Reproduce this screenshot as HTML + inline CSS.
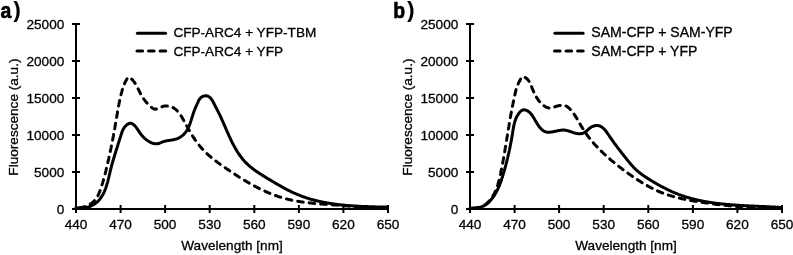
<!DOCTYPE html>
<html><head><meta charset="utf-8"><style>
html,body{margin:0;padding:0;background:#fff;width:793px;height:255px;overflow:hidden}
svg{display:block;will-change:transform}
text{font-family:"Liberation Sans",sans-serif;font-size:13.6px;fill:#000;stroke:#000;stroke-width:0.3px}
.lbl{font-weight:bold;font-size:22.8px;stroke:#000;stroke-width:0.7px}
.ax{stroke:#000;stroke-width:2;fill:none}
.sl{stroke:#000;stroke-width:3;fill:none;stroke-linecap:round;stroke-linejoin:round}
.dl{stroke:#000;stroke-width:3;fill:none;stroke-linecap:round;stroke-linejoin:round;stroke-dasharray:5.6 5.95}
</style></head><body>
<svg width="793" height="255" viewBox="0 0 793 255">
<path d="M76.0 24V213M76.0 209H388.0" class="ax"/>
<path d="M72.0 24.0H80.0" class="ax"/>
<path d="M72.0 61.0H80.0" class="ax"/>
<path d="M72.0 98.0H80.0" class="ax"/>
<path d="M72.0 135.0H80.0" class="ax"/>
<path d="M72.0 172.0H80.0" class="ax"/>
<path d="M72.0 209.0H80.0" class="ax"/>
<path d="M76.0 205V213" class="ax"/>
<path d="M120.6 205V213" class="ax"/>
<path d="M165.1 205V213" class="ax"/>
<path d="M209.7 205V213" class="ax"/>
<path d="M254.3 205V213" class="ax"/>
<path d="M298.9 205V213" class="ax"/>
<path d="M343.4 205V213" class="ax"/>
<path d="M388.0 205V213" class="ax"/>
<text x="64.3" y="28.6" text-anchor="end">25000</text>
<text x="64.3" y="65.6" text-anchor="end">20000</text>
<text x="64.3" y="102.6" text-anchor="end">15000</text>
<text x="64.3" y="139.6" text-anchor="end">10000</text>
<text x="64.3" y="176.6" text-anchor="end">5000</text>
<text x="64.3" y="213.6" text-anchor="end">0</text>
<text x="76.0" y="229.2" text-anchor="middle">440</text>
<text x="120.6" y="229.2" text-anchor="middle">470</text>
<text x="165.1" y="229.2" text-anchor="middle">500</text>
<text x="209.7" y="229.2" text-anchor="middle">530</text>
<text x="254.3" y="229.2" text-anchor="middle">560</text>
<text x="298.9" y="229.2" text-anchor="middle">590</text>
<text x="343.4" y="229.2" text-anchor="middle">620</text>
<text x="388.0" y="229.2" text-anchor="middle">650</text>
<text x="232.0" y="250.3" text-anchor="middle">Wavelength [nm]</text>
<text transform="translate(17.6 117.1) rotate(-90)" text-anchor="middle">Fluorescence (a.u.)</text>
<text transform="translate(0.6 17.8) scale(0.85 1)" class="lbl">a</text>
<text x="13.4" y="16.9" class="lbl" style="font-size:21.5px;stroke-width:0.2px">)</text>
<path d="M137.4 33.3H165.6" class="sl"/>
<path d="M137.0 51.1H165.9" class="dl"/>
<text x="173.4" y="37.3" style="font-size:13.6px">CFP-ARC4 + YFP-TBM</text>
<text x="173.4" y="55.5" style="font-size:13.6px">CFP-ARC4 + YFP</text>
<path d="M76.0 207.9L76.6 207.9L77.3 207.9L78.0 207.9L78.6 207.8L79.3 207.8L80.0 207.7L80.6 207.6L81.3 207.5L82.0 207.4L82.6 207.2L83.3 207.1L83.9 206.9L84.5 206.7L85.2 206.5L85.8 206.3L86.4 206.0L87.1 205.8L87.7 205.5L88.3 205.2L88.8 204.9L89.4 204.6L90.0 204.3L90.5 203.9L91.1 203.6L91.6 203.2L92.1 202.8L92.6 202.4L93.1 202.0L93.6 201.5L94.1 201.1L94.5 200.6L94.9 200.1L95.3 199.6L95.7 199.1L96.1 198.6L96.5 198.1L96.8 197.5L97.2 197.0L97.5 196.4L97.8 195.8L98.1 195.2L98.4 194.6L98.7 194.0L99.0 193.4L99.2 192.8L99.5 192.2L99.8 191.6L100.0 190.9L100.2 190.3L100.5 189.7L100.7 189.0L100.9 188.4L101.1 187.7L101.3 187.1L101.5 186.4L101.7 185.8L101.9 185.2L102.1 184.5L102.3 183.9L102.5 183.2L102.7 182.6L102.9 181.9L103.1 181.3L103.3 180.7L103.4 180.0L103.6 179.4L103.8 178.7L104.0 178.1L104.2 177.5L104.3 176.8L104.5 176.2L104.7 175.5L104.8 174.9L105.0 174.3L105.2 173.6L105.3 173.0L105.5 172.4L105.6 171.7L105.8 171.1L106.0 170.4L106.1 169.8L106.3 169.2L106.4 168.5L106.6 167.9L106.7 167.2L106.9 166.6L107.0 166.0L107.2 165.3L107.3 164.7L107.5 164.1L107.6 163.4L107.8 162.8L107.9 162.1L108.1 161.5L108.2 160.8L108.4 160.2L108.5 159.6L108.7 158.9L108.8 158.3L108.9 157.6L109.1 157.0L109.2 156.4L109.4 155.7L109.5 155.1L109.6 154.4L109.8 153.8L109.9 153.1L110.1 152.5L110.2 151.8L110.3 151.2L110.5 150.6L110.6 149.9L110.7 149.3L110.9 148.6L111.0 148.0L111.1 147.3L111.3 146.7L111.4 146.0L111.5 145.4L111.6 144.7L111.8 144.1L111.9 143.4L112.0 142.8L112.2 142.1L112.3 141.5L112.4 140.8L112.5 140.2L112.7 139.6L112.8 138.9L112.9 138.3L113.0 137.6L113.1 137.0L113.3 136.3L113.4 135.7L113.5 135.0L113.6 134.3L113.8 133.7L113.9 133.0L114.0 132.4L114.1 131.7L114.2 131.1L114.3 130.4L114.5 129.8L114.6 129.1L114.7 128.5L114.8 127.8L114.9 127.2L115.0 126.5L115.2 125.9L115.3 125.2L115.4 124.6L115.5 123.9L115.6 123.2L115.7 122.6L115.8 121.9L116.0 121.3L116.1 120.6L116.2 120.0L116.3 119.3L116.4 118.6L116.5 118.0L116.6 117.3L116.7 116.7L116.8 116.0L116.9 115.4L117.1 114.7L117.2 114.0L117.3 113.4L117.4 112.7L117.5 112.1L117.6 111.4L117.7 110.8L117.8 110.1L118.0 109.4L118.1 108.8L118.2 108.1L118.3 107.5L118.4 106.8L118.5 106.2L118.7 105.5L118.8 104.9L118.9 104.2L119.0 103.6L119.2 102.9L119.3 102.3L119.4 101.6L119.6 101.0L119.7 100.3L119.8 99.7L120.0 99.0L120.1 98.4L120.3 97.8L120.4 97.1L120.6 96.5L120.7 95.8L120.9 95.2L121.0 94.6L121.2 93.9L121.3 93.3L121.5 92.7L121.7 92.1L121.9 91.4L122.0 90.8L122.2 90.2L122.4 89.6L122.6 89.0L122.8 88.3L123.0 87.7L123.2 87.1L123.4 86.5L123.6 85.9L123.9 85.3L124.1 84.7L124.3 84.1L124.6 83.5L124.9 82.8L125.2 82.2L125.5 81.6L125.8 81.0L126.1 80.4L126.5 79.8L126.8 79.2L127.2 78.6L127.6 78.0L128.1 77.6L128.6 77.3L129.1 77.3L129.6 77.5L130.2 77.8L130.8 78.3L131.3 78.8L131.9 79.4L132.4 79.9L132.9 80.4L133.3 80.9L133.7 81.4L134.1 81.9L134.5 82.5L134.9 83.0L135.2 83.5L135.5 84.0L135.9 84.5L136.2 85.1L136.5 85.7L136.8 86.2L137.1 86.8L137.4 87.4L137.7 88.0L138.0 88.6L138.3 89.2L138.6 89.8L138.9 90.4L139.2 91.0L139.5 91.6L139.8 92.2L140.1 92.8L140.4 93.4L140.7 94.0L141.0 94.6L141.3 95.2L141.7 95.8L142.0 96.3L142.3 96.9L142.7 97.4L143.0 98.0L143.4 98.5L143.8 99.0L144.2 99.6L144.6 100.1L145.0 100.6L145.4 101.1L145.8 101.6L146.2 102.1L146.6 102.6L147.1 103.1L147.5 103.6L148.0 104.1L148.4 104.6L148.9 105.0L149.4 105.5L149.9 106.0L150.4 106.5L150.9 106.9L151.5 107.4L152.0 107.8L152.6 108.2L153.1 108.5L153.7 108.8L154.3 109.0L154.9 109.1L155.5 109.2L156.1 109.1L156.7 109.0L157.4 108.8L158.0 108.5L158.7 108.3L159.3 108.0L160.0 107.7L160.7 107.4L161.3 107.0L162.0 106.8L162.7 106.5L163.4 106.3L164.0 106.1L164.7 106.0L165.4 105.9L166.0 105.9L166.7 105.9L167.3 105.9L168.0 106.0L168.6 106.0L169.2 106.2L169.9 106.3L170.5 106.5L171.1 106.7L171.7 106.9L172.2 107.2L172.8 107.5L173.4 107.8L173.9 108.1L174.4 108.5L174.9 108.8L175.4 109.2L175.9 109.6L176.4 110.0L176.9 110.5L177.3 110.9L177.7 111.4L178.2 111.9L178.6 112.4L179.0 112.9L179.4 113.4L179.8 113.9L180.1 114.5L180.5 115.0L180.9 115.6L181.2 116.1L181.6 116.7L181.9 117.3L182.3 117.8L182.6 118.4L182.9 119.0L183.3 119.6L183.6 120.2L183.9 120.8L184.3 121.4L184.6 122.0L184.9 122.6L185.2 123.2L185.6 123.8L185.9 124.4L186.2 125.0L186.5 125.6L186.9 126.2L187.2 126.8L187.5 127.4L187.8 128.0L188.2 128.6L188.5 129.2L188.8 129.7L189.2 130.3L189.5 130.9L189.8 131.5L190.2 132.0L190.5 132.6L190.9 133.2L191.2 133.8L191.6 134.3L191.9 134.9L192.3 135.4L192.6 136.0L193.0 136.6L193.3 137.1L193.7 137.7L194.0 138.2L194.4 138.8L194.8 139.3L195.1 139.8L195.5 140.4L195.9 140.9L196.3 141.4L196.7 142.0L197.0 142.5L197.4 143.0L197.8 143.5L198.2 144.0L198.6 144.6L199.0 145.1L199.4 145.6L199.8 146.1L200.2 146.6L200.7 147.1L201.1 147.6L201.5 148.0L201.9 148.5L202.4 149.0L202.8 149.5L203.2 150.0L203.7 150.4L204.1 150.9L204.6 151.4L205.1 151.8L205.5 152.3L206.0 152.7L206.5 153.2L206.9 153.6L207.4 154.1L207.9 154.5L208.4 155.0L208.9 155.4L209.4 155.8L209.9 156.2L210.4 156.7L210.9 157.1L211.4 157.5L211.9 157.9L212.4 158.4L212.9 158.8L213.4 159.2L213.9 159.6L214.5 160.0L215.0 160.4L215.5 160.8L216.0 161.2L216.6 161.6L217.1 162.0L217.6 162.4L218.2 162.8L218.7 163.2L219.2 163.6L219.8 164.0L220.3 164.4L220.9 164.7L221.4 165.1L221.9 165.5L222.5 165.9L223.0 166.3L223.6 166.7L224.1 167.0L224.7 167.4L225.2 167.8L225.8 168.2L226.3 168.5L226.9 168.9L227.4 169.3L228.0 169.7L228.6 170.1L229.1 170.4L229.7 170.8L230.2 171.2L230.8 171.5L231.3 171.9L231.9 172.3L232.4 172.7L233.0 173.0L233.5 173.4L234.1 173.8L234.7 174.1L235.2 174.5L235.8 174.9L236.3 175.2L236.9 175.6L237.5 175.9L238.0 176.3L238.6 176.7L239.1 177.0L239.7 177.4L240.3 177.7L240.8 178.1L241.4 178.4L242.0 178.8L242.5 179.1L243.1 179.5L243.7 179.8L244.2 180.2L244.8 180.5L245.4 180.8L245.9 181.2L246.5 181.5L247.1 181.9L247.6 182.2L248.2 182.5L248.8 182.9L249.4 183.2L249.9 183.5L250.5 183.8L251.1 184.2L251.7 184.5L252.2 184.8L252.8 185.1L253.4 185.4L254.0 185.8L254.6 186.1L255.1 186.4L255.7 186.7L256.3 187.0L256.9 187.3L257.5 187.6L258.1 187.9L258.7 188.2L259.2 188.5L259.8 188.8L260.4 189.1L261.0 189.4L261.6 189.6L262.2 189.9L262.8 190.2L263.4 190.5L264.0 190.8L264.6 191.0L265.2 191.3L265.8 191.6L266.4 191.8L267.0 192.1L267.6 192.4L268.2 192.6L268.8 192.9L269.4 193.1L270.0 193.4L270.6 193.6L271.2 193.9L271.8 194.1L272.4 194.4L273.0 194.6L273.6 194.8L274.3 195.1L274.9 195.3L275.5 195.5L276.1 195.7L276.7 195.9L277.3 196.2L278.0 196.4L278.6 196.6L279.2 196.8L279.8 197.0L280.4 197.2L281.1 197.4L281.7 197.6L282.3 197.8L282.9 197.9L283.6 198.1L284.2 198.3L284.8 198.5L285.5 198.6L286.1 198.8L286.7 199.0L287.4 199.1L288.0 199.3L288.7 199.4L289.3 199.6L290.0 199.7L290.6 199.9L291.2 200.0L291.9 200.2L292.5 200.3L293.2 200.4L293.8 200.6L294.5 200.7L295.1 200.8L295.8 200.9L296.4 201.1L297.1 201.2L297.7 201.3L298.4 201.4L299.1 201.5L299.7 201.6L300.4 201.7L301.0 201.8L301.7 201.9L302.3 202.0L303.0 202.1L303.7 202.2L304.3 202.3L305.0 202.4L305.6 202.4L306.3 202.5L307.0 202.6L307.6 202.7L308.3 202.8L309.0 202.8L309.6 202.9L310.3 203.0L311.0 203.1L311.6 203.1L312.3 203.2L313.0 203.3L313.6 203.3L314.3 203.4L315.0 203.5L315.6 203.5L316.3 203.6L317.0 203.6L317.6 203.7L318.3 203.7L319.0 203.8L319.6 203.9L320.3 203.9L321.0 204.0L321.6 204.0L322.3 204.1L323.0 204.1L323.7 204.2L324.3 204.2L325.0 204.3L325.7 204.3L326.3 204.4L327.0 204.4L327.7 204.5L328.3 204.5L329.0 204.6L329.7 204.6L330.3 204.7L331.0 204.7L331.7 204.8L332.3 204.8L333.0 204.8L333.6 204.9L334.3 204.9L335.0 205.0L335.6 205.0L336.3 205.1L337.0 205.1L337.6 205.2L338.3 205.2L338.9 205.3L339.6 205.3L340.3 205.4L340.9 205.4L341.6 205.5L342.2 205.5L342.9 205.6L343.5 205.7L344.2 205.7L344.8 205.8L345.5 205.8L346.1 205.9L346.8 205.9L347.5 206.0L348.1 206.0L348.8 206.1L349.4 206.2L350.1 206.2L350.7 206.3L351.4 206.3L352.0 206.4L352.7 206.4L353.3 206.5L354.0 206.5L354.6 206.6L355.3 206.6L355.9 206.7L356.6 206.7L357.2 206.8L357.9 206.9L358.5 206.9L359.2 207.0L359.8 207.0L360.5 207.0L361.1 207.1L361.8 207.1L362.4 207.2L363.1 207.2L363.7 207.3L364.4 207.3L365.0 207.4L365.7 207.4L366.3 207.4L367.0 207.5L367.7 207.5L368.3 207.6L369.0 207.6L369.6 207.6L370.3 207.7L370.9 207.7L371.6 207.7L372.3 207.8L372.9 207.8L373.6 207.8L374.2 207.8L374.9 207.9L375.6 207.9L376.2 207.9L376.9 207.9L377.6 207.9L378.2 207.9L378.9 207.9L379.6 208.0L380.2 208.0L380.9 208.0L381.6 208.0L382.2 208.0L382.9 208.0L383.6 208.0L384.3 208.0L384.9 208.0L385.6 207.9L386.3 207.9L387.0 207.9L387.7 207.9" class="dl" style="stroke-dashoffset:8.12"/>
<path d="M76.0 207.7L76.6 207.8L77.3 207.9L77.9 208.0L78.6 208.1L79.2 208.1L79.9 208.2L80.5 208.2L81.2 208.2L81.8 208.2L82.5 208.1L83.1 208.1L83.8 208.0L84.5 207.9L85.1 207.8L85.8 207.6L86.4 207.5L87.0 207.3L87.7 207.2L88.3 207.0L88.9 206.8L89.5 206.5L90.2 206.3L90.8 206.0L91.4 205.8L91.9 205.5L92.5 205.2L93.1 204.9L93.6 204.6L94.2 204.2L94.7 203.9L95.2 203.5L95.7 203.1L96.2 202.8L96.7 202.4L97.2 201.9L97.7 201.5L98.1 201.1L98.5 200.7L98.9 200.2L99.4 199.7L99.8 199.3L100.1 198.8L100.5 198.3L100.9 197.8L101.2 197.3L101.6 196.8L101.9 196.2L102.2 195.7L102.5 195.2L102.9 194.6L103.2 194.1L103.4 193.5L103.7 192.9L104.0 192.4L104.3 191.8L104.5 191.2L104.8 190.6L105.0 190.0L105.2 189.4L105.5 188.8L105.7 188.2L105.9 187.5L106.1 186.9L106.3 186.3L106.5 185.7L106.7 185.0L106.9 184.4L107.1 183.8L107.3 183.1L107.5 182.5L107.7 181.8L107.8 181.2L108.0 180.5L108.2 179.9L108.3 179.2L108.5 178.6L108.7 177.9L108.8 177.3L109.0 176.6L109.1 175.9L109.3 175.3L109.4 174.6L109.6 174.0L109.7 173.3L109.9 172.7L110.1 172.0L110.2 171.4L110.4 170.7L110.5 170.1L110.7 169.5L110.8 168.8L111.0 168.2L111.2 167.5L111.3 166.9L111.5 166.3L111.6 165.7L111.8 165.0L112.0 164.4L112.2 163.8L112.3 163.2L112.5 162.6L112.7 162.0L112.8 161.3L113.0 160.7L113.2 160.1L113.4 159.5L113.6 158.9L113.7 158.3L113.9 157.7L114.1 157.1L114.3 156.5L114.5 155.9L114.6 155.3L114.8 154.7L115.0 154.1L115.2 153.5L115.4 152.9L115.6 152.3L115.8 151.7L115.9 151.1L116.1 150.5L116.3 149.9L116.5 149.3L116.7 148.7L116.9 148.1L117.1 147.5L117.3 146.9L117.5 146.3L117.7 145.6L117.9 145.0L118.1 144.4L118.2 143.8L118.4 143.2L118.6 142.6L118.8 142.0L119.0 141.3L119.2 140.7L119.4 140.1L119.6 139.5L119.8 138.8L120.0 138.2L120.2 137.6L120.4 137.0L120.6 136.3L120.8 135.7L121.0 135.0L121.2 134.4L121.4 133.8L121.6 133.1L121.8 132.5L122.1 131.9L122.3 131.3L122.6 130.7L122.8 130.1L123.1 129.5L123.4 128.9L123.8 128.3L124.1 127.8L124.5 127.2L124.9 126.7L125.3 126.2L125.8 125.8L126.2 125.3L126.7 124.9L127.3 124.4L127.8 124.1L128.4 123.8L129.0 123.5L129.6 123.3L130.2 123.2L130.7 123.2L131.3 123.3L131.9 123.5L132.5 123.8L133.0 124.2L133.5 124.6L134.0 125.0L134.5 125.5L135.0 125.9L135.4 126.4L135.8 127.0L136.3 127.5L136.7 128.1L137.0 128.6L137.4 129.2L137.8 129.8L138.2 130.3L138.5 130.9L138.9 131.4L139.3 132.0L139.7 132.5L140.1 133.0L140.4 133.6L140.8 134.1L141.2 134.6L141.6 135.1L142.0 135.6L142.4 136.0L142.9 136.5L143.3 137.0L143.7 137.4L144.2 137.9L144.6 138.3L145.1 138.7L145.6 139.1L146.0 139.5L146.5 139.9L147.1 140.3L147.6 140.7L148.1 141.0L148.7 141.4L149.2 141.7L149.8 142.0L150.4 142.3L151.0 142.6L151.6 142.9L152.2 143.1L152.9 143.3L153.5 143.5L154.1 143.6L154.7 143.7L155.4 143.8L156.0 143.8L156.6 143.8L157.3 143.8L157.9 143.7L158.5 143.5L159.1 143.4L159.7 143.1L160.3 142.9L160.9 142.7L161.5 142.4L162.1 142.1L162.7 141.9L163.3 141.7L164.0 141.4L164.6 141.3L165.2 141.1L165.9 140.9L166.5 140.8L167.1 140.7L167.8 140.6L168.4 140.5L169.1 140.4L169.8 140.3L170.4 140.2L171.1 140.1L171.7 140.0L172.4 139.9L173.0 139.8L173.6 139.7L174.3 139.5L174.9 139.4L175.5 139.2L176.1 139.0L176.7 138.8L177.3 138.6L177.9 138.3L178.5 138.1L179.1 137.8L179.6 137.5L180.2 137.2L180.7 136.8L181.2 136.5L181.7 136.1L182.2 135.7L182.7 135.3L183.2 134.9L183.7 134.5L184.1 134.0L184.5 133.6L184.9 133.1L185.3 132.6L185.7 132.1L186.1 131.6L186.5 131.1L186.8 130.5L187.1 130.0L187.4 129.4L187.7 128.9L188.0 128.3L188.3 127.7L188.6 127.1L188.9 126.5L189.1 125.9L189.4 125.3L189.6 124.7L189.8 124.1L190.1 123.5L190.3 122.9L190.5 122.2L190.7 121.6L190.9 121.0L191.1 120.3L191.3 119.7L191.5 119.1L191.7 118.4L191.9 117.8L192.1 117.1L192.3 116.5L192.5 115.9L192.7 115.2L192.9 114.6L193.1 114.0L193.3 113.4L193.5 112.8L193.7 112.2L193.9 111.5L194.1 111.0L194.3 110.4L194.6 109.8L194.8 109.2L195.1 108.6L195.3 108.1L195.6 107.5L195.8 106.9L196.1 106.3L196.3 105.8L196.6 105.2L196.9 104.6L197.1 104.0L197.4 103.4L197.7 102.8L197.9 102.2L198.2 101.6L198.5 100.9L198.8 100.3L199.1 99.8L199.5 99.2L199.8 98.7L200.3 98.2L200.7 97.7L201.2 97.3L201.8 96.9L202.4 96.6L203.0 96.3L203.6 96.1L204.2 96.0L204.9 95.9L205.5 95.8L206.2 95.8L206.8 95.9L207.4 96.0L208.0 96.2L208.5 96.5L209.0 96.8L209.5 97.2L210.0 97.6L210.5 98.0L210.9 98.5L211.3 99.0L211.7 99.6L212.1 100.1L212.4 100.7L212.8 101.3L213.1 101.9L213.4 102.6L213.8 103.2L214.1 103.8L214.4 104.4L214.7 105.0L215.0 105.6L215.3 106.2L215.6 106.8L215.9 107.3L216.2 107.9L216.5 108.5L216.8 109.1L217.1 109.6L217.4 110.2L217.7 110.7L217.9 111.3L218.2 111.8L218.5 112.4L218.8 113.0L219.1 113.5L219.3 114.1L219.6 114.6L219.9 115.2L220.1 115.7L220.4 116.3L220.7 116.9L220.9 117.4L221.2 118.0L221.4 118.6L221.7 119.1L222.0 119.7L222.2 120.3L222.5 120.9L222.7 121.5L223.0 122.0L223.3 122.6L223.5 123.2L223.8 123.8L224.0 124.4L224.3 125.0L224.6 125.6L224.8 126.2L225.1 126.8L225.3 127.4L225.6 128.0L225.8 128.6L226.1 129.2L226.4 129.8L226.6 130.4L226.9 131.0L227.2 131.6L227.4 132.2L227.7 132.8L228.0 133.4L228.2 134.0L228.5 134.6L228.8 135.2L229.0 135.8L229.3 136.4L229.6 137.0L229.9 137.6L230.1 138.2L230.4 138.8L230.7 139.4L231.0 140.0L231.3 140.6L231.6 141.2L231.9 141.8L232.1 142.4L232.4 143.0L232.7 143.5L233.0 144.1L233.3 144.7L233.7 145.3L234.0 145.9L234.3 146.4L234.6 147.0L234.9 147.6L235.2 148.2L235.6 148.7L235.9 149.3L236.2 149.8L236.5 150.4L236.9 151.0L237.2 151.5L237.6 152.1L237.9 152.6L238.3 153.1L238.6 153.7L239.0 154.2L239.4 154.7L239.7 155.3L240.1 155.8L240.5 156.3L240.9 156.8L241.2 157.3L241.6 157.8L242.0 158.3L242.4 158.8L242.8 159.3L243.2 159.8L243.7 160.3L244.1 160.8L244.5 161.2L244.9 161.7L245.4 162.2L245.8 162.6L246.3 163.1L246.7 163.5L247.2 163.9L247.6 164.4L248.1 164.8L248.6 165.2L249.0 165.6L249.5 166.1L250.0 166.5L250.5 166.9L251.0 167.3L251.5 167.7L252.0 168.1L252.5 168.5L253.0 168.9L253.5 169.2L254.0 169.6L254.5 170.0L255.0 170.4L255.5 170.8L256.1 171.1L256.6 171.5L257.1 171.9L257.7 172.2L258.2 172.6L258.7 172.9L259.3 173.3L259.8 173.6L260.4 174.0L260.9 174.3L261.4 174.7L262.0 175.0L262.5 175.4L263.1 175.7L263.6 176.1L264.2 176.4L264.8 176.7L265.3 177.1L265.9 177.4L266.4 177.8L267.0 178.1L267.5 178.4L268.1 178.8L268.7 179.1L269.2 179.4L269.8 179.8L270.4 180.1L270.9 180.4L271.5 180.8L272.0 181.1L272.6 181.4L273.2 181.8L273.7 182.1L274.3 182.4L274.8 182.8L275.4 183.1L276.0 183.4L276.5 183.8L277.1 184.1L277.7 184.4L278.2 184.7L278.8 185.1L279.4 185.4L279.9 185.7L280.5 186.0L281.1 186.4L281.6 186.7L282.2 187.0L282.8 187.3L283.3 187.6L283.9 187.9L284.5 188.3L285.1 188.6L285.6 188.9L286.2 189.2L286.8 189.5L287.3 189.8L287.9 190.1L288.5 190.4L289.1 190.7L289.7 191.0L290.2 191.2L290.8 191.5L291.4 191.8L292.0 192.1L292.6 192.4L293.2 192.6L293.7 192.9L294.3 193.2L294.9 193.4L295.5 193.7L296.1 193.9L296.7 194.2L297.3 194.5L297.9 194.7L298.5 194.9L299.1 195.2L299.7 195.4L300.3 195.6L300.9 195.9L301.5 196.1L302.1 196.3L302.7 196.5L303.3 196.8L303.9 197.0L304.5 197.2L305.1 197.4L305.7 197.6L306.3 197.8L306.9 198.0L307.5 198.2L308.1 198.4L308.8 198.6L309.4 198.8L310.0 198.9L310.6 199.1L311.2 199.3L311.8 199.5L312.5 199.6L313.1 199.8L313.7 200.0L314.3 200.1L314.9 200.3L315.6 200.5L316.2 200.6L316.8 200.8L317.4 200.9L318.1 201.1L318.7 201.2L319.3 201.4L320.0 201.5L320.6 201.6L321.2 201.8L321.8 201.9L322.5 202.0L323.1 202.2L323.7 202.3L324.4 202.4L325.0 202.5L325.6 202.6L326.3 202.8L326.9 202.9L327.6 203.0L328.2 203.1L328.8 203.2L329.5 203.3L330.1 203.4L330.7 203.5L331.4 203.6L332.0 203.7L332.7 203.8L333.3 203.9L333.9 204.0L334.6 204.1L335.2 204.2L335.9 204.3L336.5 204.3L337.2 204.4L337.8 204.5L338.4 204.6L339.1 204.7L339.7 204.7L340.4 204.8L341.0 204.9L341.7 204.9L342.3 205.0L343.0 205.1L343.6 205.1L344.3 205.2L344.9 205.3L345.6 205.3L346.2 205.4L346.9 205.4L347.5 205.5L348.1 205.5L348.8 205.6L349.4 205.7L350.1 205.7L350.7 205.7L351.4 205.8L352.0 205.8L352.7 205.9L353.3 205.9L354.0 206.0L354.6 206.0L355.3 206.1L355.9 206.1L356.6 206.1L357.2 206.2L357.9 206.2L358.5 206.2L359.2 206.3L359.8 206.3L360.5 206.3L361.1 206.4L361.8 206.4L362.4 206.4L363.1 206.5L363.7 206.5L364.4 206.5L365.0 206.5L365.7 206.6L366.3 206.6L367.0 206.6L367.6 206.6L368.3 206.7L368.9 206.7L369.6 206.7L370.2 206.7L370.9 206.7L371.5 206.8L372.2 206.8L372.8 206.8L373.4 206.8L374.1 206.8L374.7 206.8L375.4 206.9L376.0 206.9L376.7 206.9L377.3 206.9L378.0 206.9L378.6 206.9L379.2 206.9L379.9 207.0L380.5 207.0L381.2 207.0L381.8 207.0L382.5 207.0L383.1 207.0L383.7 207.0L384.4 207.1L385.0 207.1L385.6 207.1L386.3 207.1L386.9 207.1L387.6 207.1" class="sl"/>
<path d="M470.0 24V213M470.0 209H782.0" class="ax"/>
<path d="M466.0 24.0H474.0" class="ax"/>
<path d="M466.0 61.0H474.0" class="ax"/>
<path d="M466.0 98.0H474.0" class="ax"/>
<path d="M466.0 135.0H474.0" class="ax"/>
<path d="M466.0 172.0H474.0" class="ax"/>
<path d="M466.0 209.0H474.0" class="ax"/>
<path d="M470.0 205V213" class="ax"/>
<path d="M514.6 205V213" class="ax"/>
<path d="M559.1 205V213" class="ax"/>
<path d="M603.7 205V213" class="ax"/>
<path d="M648.3 205V213" class="ax"/>
<path d="M692.9 205V213" class="ax"/>
<path d="M737.4 205V213" class="ax"/>
<path d="M782.0 205V213" class="ax"/>
<text x="458.3" y="28.6" text-anchor="end">25000</text>
<text x="458.3" y="65.6" text-anchor="end">20000</text>
<text x="458.3" y="102.6" text-anchor="end">15000</text>
<text x="458.3" y="139.6" text-anchor="end">10000</text>
<text x="458.3" y="176.6" text-anchor="end">5000</text>
<text x="458.3" y="213.6" text-anchor="end">0</text>
<text x="470.0" y="229.2" text-anchor="middle">440</text>
<text x="514.6" y="229.2" text-anchor="middle">470</text>
<text x="559.1" y="229.2" text-anchor="middle">500</text>
<text x="603.7" y="229.2" text-anchor="middle">530</text>
<text x="648.3" y="229.2" text-anchor="middle">560</text>
<text x="692.9" y="229.2" text-anchor="middle">590</text>
<text x="737.4" y="229.2" text-anchor="middle">620</text>
<text x="782.0" y="229.2" text-anchor="middle">650</text>
<text x="626.0" y="250.3" text-anchor="middle">Wavelength [nm]</text>
<text transform="translate(411.6 117.1) rotate(-90)" text-anchor="middle">Fluorescence (a.u.)</text>
<text transform="translate(393.3 17.6) scale(0.85 1)" class="lbl">b</text>
<text x="407.3" y="16.9" class="lbl" style="font-size:21.5px;stroke-width:0.2px">)</text>
<path d="M554.9 33.3H583.1" class="sl"/>
<path d="M554.5 51.1H583.4" class="dl"/>
<text x="591.3" y="37.3" style="font-size:14.05px">SAM-CFP + SAM-YFP</text>
<text x="591.3" y="55.5" style="font-size:14.05px">SAM-CFP + YFP</text>
<path d="M469.9 208.1L470.6 208.3L471.4 208.4L472.1 208.5L472.8 208.6L473.5 208.6L474.2 208.6L474.9 208.6L475.6 208.5L476.2 208.5L476.9 208.4L477.5 208.2L478.2 208.1L478.8 207.9L479.5 207.7L480.1 207.5L480.7 207.2L481.3 207.0L481.9 206.7L482.5 206.4L483.0 206.1L483.6 205.7L484.2 205.4L484.7 205.0L485.2 204.6L485.8 204.2L486.3 203.8L486.8 203.4L487.3 202.9L487.8 202.5L488.2 202.0L488.7 201.5L489.1 201.1L489.6 200.6L490.0 200.1L490.4 199.6L490.8 199.1L491.2 198.5L491.6 198.0L492.0 197.5L492.3 196.9L492.7 196.4L493.0 195.8L493.3 195.3L493.6 194.7L494.0 194.2L494.3 193.6L494.6 193.0L494.8 192.4L495.1 191.8L495.4 191.2L495.7 190.6L495.9 190.0L496.2 189.4L496.4 188.8L496.6 188.2L496.9 187.6L497.1 187.0L497.3 186.3L497.5 185.7L497.7 185.1L497.9 184.4L498.1 183.8L498.3 183.1L498.5 182.5L498.6 181.9L498.8 181.2L499.0 180.6L499.1 179.9L499.3 179.3L499.5 178.6L499.6 177.9L499.8 177.3L499.9 176.6L500.1 176.0L500.2 175.3L500.4 174.6L500.5 174.0L500.6 173.3L500.8 172.7L500.9 172.0L501.0 171.3L501.2 170.7L501.3 170.0L501.4 169.4L501.6 168.7L501.7 168.0L501.8 167.4L502.0 166.7L502.1 166.1L502.2 165.4L502.3 164.7L502.5 164.1L502.6 163.4L502.7 162.8L502.8 162.1L502.9 161.5L503.1 160.8L503.2 160.1L503.3 159.5L503.4 158.8L503.5 158.2L503.7 157.5L503.8 156.9L503.9 156.2L504.0 155.5L504.1 154.9L504.2 154.2L504.3 153.6L504.5 152.9L504.6 152.3L504.7 151.6L504.8 151.0L504.9 150.3L505.0 149.6L505.1 149.0L505.2 148.3L505.3 147.7L505.4 147.0L505.6 146.4L505.7 145.7L505.8 145.1L505.9 144.4L506.0 143.8L506.1 143.1L506.2 142.5L506.3 141.8L506.4 141.2L506.5 140.5L506.6 139.8L506.7 139.2L506.8 138.5L506.9 137.9L507.0 137.2L507.2 136.6L507.3 135.9L507.4 135.3L507.5 134.6L507.6 134.0L507.7 133.3L507.8 132.7L507.9 132.0L508.0 131.4L508.1 130.7L508.2 130.1L508.3 129.4L508.4 128.8L508.5 128.1L508.6 127.5L508.8 126.8L508.9 126.2L509.0 125.5L509.1 124.9L509.2 124.2L509.3 123.6L509.4 122.9L509.5 122.2L509.6 121.6L509.7 120.9L509.9 120.3L510.0 119.6L510.1 119.0L510.2 118.3L510.3 117.7L510.4 117.0L510.5 116.4L510.7 115.7L510.8 115.1L510.9 114.4L511.0 113.8L511.1 113.1L511.3 112.5L511.4 111.8L511.5 111.2L511.6 110.5L511.7 109.9L511.9 109.2L512.0 108.6L512.1 107.9L512.2 107.3L512.4 106.6L512.5 105.9L512.6 105.3L512.8 104.6L512.9 104.0L513.0 103.3L513.2 102.7L513.3 102.0L513.4 101.4L513.6 100.7L513.7 100.1L513.8 99.4L514.0 98.8L514.1 98.1L514.3 97.5L514.4 96.8L514.6 96.1L514.7 95.5L514.9 94.8L515.0 94.2L515.2 93.5L515.3 92.9L515.5 92.2L515.6 91.6L515.8 90.9L515.9 90.3L516.1 89.6L516.3 89.0L516.5 88.3L516.7 87.7L516.9 87.1L517.1 86.4L517.3 85.8L517.5 85.2L517.8 84.6L518.1 84.1L518.3 83.5L518.6 82.9L518.9 82.3L519.2 81.7L519.6 81.1L519.9 80.5L520.2 79.9L520.5 79.2L520.9 78.5L521.2 77.9L521.6 77.3L522.0 76.9L522.5 76.6L523.0 76.5L523.6 76.7L524.2 76.9L524.8 77.3L525.4 77.6L525.9 78.0L526.5 78.5L527.0 78.9L527.5 79.4L528.0 79.9L528.4 80.4L528.8 81.0L529.2 81.5L529.5 82.1L529.8 82.7L530.1 83.3L530.4 83.9L530.7 84.5L530.9 85.1L531.2 85.7L531.4 86.3L531.7 86.9L531.9 87.5L532.1 88.2L532.4 88.8L532.6 89.4L532.9 90.0L533.2 90.6L533.4 91.2L533.7 91.8L534.0 92.4L534.2 93.0L534.5 93.6L534.8 94.2L535.1 94.8L535.4 95.4L535.7 96.0L536.1 96.6L536.4 97.1L536.7 97.7L537.1 98.3L537.5 98.8L537.8 99.4L538.2 99.9L538.6 100.5L539.0 101.0L539.4 101.5L539.9 102.0L540.3 102.5L540.8 103.0L541.3 103.5L541.8 104.0L542.3 104.4L542.8 104.9L543.3 105.3L543.9 105.7L544.4 106.1L545.0 106.5L545.6 106.8L546.2 107.1L546.8 107.4L547.4 107.6L548.0 107.7L548.6 107.9L549.2 107.9L549.9 108.0L550.5 107.9L551.1 107.9L551.8 107.7L552.4 107.6L553.1 107.4L553.7 107.2L554.4 107.0L555.1 106.7L555.7 106.5L556.4 106.3L557.1 106.1L557.7 106.0L558.4 105.8L559.1 105.6L559.7 105.5L560.4 105.4L561.0 105.3L561.7 105.3L562.3 105.3L563.0 105.3L563.6 105.3L564.2 105.4L564.8 105.6L565.4 105.8L566.0 106.0L566.6 106.3L567.1 106.6L567.7 107.0L568.2 107.4L568.7 107.9L569.2 108.3L569.7 108.8L570.2 109.3L570.6 109.8L571.1 110.4L571.5 110.9L572.0 111.4L572.4 111.9L572.8 112.5L573.2 113.0L573.6 113.6L574.0 114.1L574.4 114.7L574.8 115.2L575.1 115.8L575.5 116.3L575.9 116.9L576.2 117.5L576.6 118.0L576.9 118.6L577.3 119.2L577.6 119.7L577.9 120.3L578.3 120.9L578.6 121.5L578.9 122.0L579.3 122.6L579.6 123.2L579.9 123.8L580.3 124.3L580.6 124.9L580.9 125.5L581.2 126.1L581.6 126.6L581.9 127.2L582.3 127.8L582.6 128.3L583.0 128.9L583.3 129.4L583.7 130.0L584.0 130.6L584.4 131.1L584.8 131.7L585.1 132.2L585.5 132.8L585.9 133.3L586.3 133.8L586.6 134.4L587.0 134.9L587.4 135.5L587.8 136.0L588.2 136.5L588.6 137.0L589.0 137.6L589.4 138.1L589.9 138.6L590.3 139.1L590.7 139.6L591.1 140.2L591.5 140.7L592.0 141.2L592.4 141.7L592.8 142.2L593.3 142.7L593.7 143.2L594.1 143.7L594.6 144.2L595.0 144.7L595.5 145.2L595.9 145.7L596.4 146.2L596.8 146.6L597.3 147.1L597.8 147.6L598.2 148.1L598.7 148.6L599.1 149.1L599.6 149.5L600.1 150.0L600.6 150.5L601.0 150.9L601.5 151.4L602.0 151.9L602.5 152.3L602.9 152.8L603.4 153.2L603.9 153.7L604.4 154.2L604.9 154.6L605.4 155.1L605.8 155.5L606.3 156.0L606.8 156.4L607.3 156.8L607.8 157.3L608.3 157.7L608.8 158.2L609.3 158.6L609.8 159.0L610.3 159.5L610.8 159.9L611.3 160.3L611.8 160.8L612.3 161.2L612.8 161.6L613.4 162.0L613.9 162.4L614.4 162.9L614.9 163.3L615.4 163.7L615.9 164.1L616.4 164.5L617.0 164.9L617.5 165.4L618.0 165.8L618.5 166.2L619.0 166.6L619.6 167.0L620.1 167.4L620.6 167.8L621.2 168.2L621.7 168.6L622.2 169.0L622.7 169.4L623.3 169.8L623.8 170.2L624.3 170.6L624.9 171.0L625.4 171.4L626.0 171.7L626.5 172.1L627.0 172.5L627.6 172.9L628.1 173.3L628.7 173.7L629.2 174.1L629.7 174.5L630.3 174.8L630.8 175.2L631.4 175.6L631.9 176.0L632.5 176.4L633.0 176.7L633.6 177.1L634.1 177.5L634.7 177.9L635.3 178.2L635.8 178.6L636.4 179.0L636.9 179.3L637.5 179.7L638.0 180.1L638.6 180.4L639.2 180.8L639.7 181.1L640.3 181.5L640.9 181.9L641.4 182.2L642.0 182.6L642.6 182.9L643.1 183.3L643.7 183.6L644.3 183.9L644.8 184.3L645.4 184.6L646.0 184.9L646.6 185.3L647.2 185.6L647.7 185.9L648.3 186.3L648.9 186.6L649.5 186.9L650.1 187.2L650.7 187.5L651.2 187.8L651.8 188.1L652.4 188.4L653.0 188.7L653.6 189.0L654.2 189.3L654.8 189.6L655.4 189.9L656.0 190.2L656.6 190.5L657.2 190.7L657.8 191.0L658.4 191.3L659.0 191.5L659.6 191.8L660.2 192.0L660.9 192.3L661.5 192.5L662.1 192.8L662.7 193.0L663.3 193.3L663.9 193.5L664.6 193.7L665.2 193.9L665.8 194.2L666.4 194.4L667.1 194.6L667.7 194.8L668.3 195.0L668.9 195.2L669.6 195.4L670.2 195.6L670.8 195.8L671.5 196.0L672.1 196.2L672.8 196.4L673.4 196.5L674.0 196.7L674.7 196.9L675.3 197.1L676.0 197.2L676.6 197.4L677.2 197.6L677.9 197.7L678.5 197.9L679.2 198.1L679.8 198.2L680.5 198.4L681.1 198.5L681.8 198.7L682.4 198.8L683.1 198.9L683.7 199.1L684.4 199.2L685.0 199.4L685.7 199.5L686.3 199.6L687.0 199.7L687.6 199.9L688.3 200.0L689.0 200.1L689.6 200.3L690.3 200.4L690.9 200.5L691.6 200.6L692.2 200.7L692.9 200.8L693.6 201.0L694.2 201.1L694.9 201.2L695.5 201.3L696.2 201.4L696.8 201.5L697.5 201.6L698.2 201.7L698.8 201.8L699.5 201.9L700.1 202.0L700.8 202.1L701.5 202.3L702.1 202.4L702.8 202.5L703.4 202.6L704.1 202.7L704.8 202.7L705.4 202.8L706.1 202.9L706.7 203.0L707.4 203.1L708.1 203.2L708.7 203.3L709.4 203.4L710.0 203.5L710.7 203.6L711.3 203.7L712.0 203.8L712.7 203.9L713.3 203.9L714.0 204.0L714.6 204.1L715.3 204.2L716.0 204.3L716.6 204.4L717.3 204.4L717.9 204.5L718.6 204.6L719.3 204.7L719.9 204.8L720.6 204.8L721.2 204.9L721.9 205.0L722.6 205.1L723.2 205.1L723.9 205.2L724.5 205.3L725.2 205.3L725.9 205.4L726.5 205.5L727.2 205.6L727.8 205.6L728.5 205.7L729.2 205.7L729.8 205.8L730.5 205.9L731.1 205.9L731.8 206.0L732.5 206.1L733.1 206.1L733.8 206.2L734.4 206.2L735.1 206.3L735.8 206.3L736.4 206.4L737.1 206.5L737.8 206.5L738.4 206.6L739.1 206.6L739.7 206.7L740.4 206.7L741.1 206.8L741.7 206.8L742.4 206.9L743.0 206.9L743.7 206.9L744.4 207.0L745.0 207.0L745.7 207.1L746.4 207.1L747.0 207.2L747.7 207.2L748.3 207.2L749.0 207.3L749.7 207.3L750.3 207.3L751.0 207.4L751.7 207.4L752.3 207.5L753.0 207.5L753.6 207.5L754.3 207.5L755.0 207.6L755.6 207.6L756.3 207.6L757.0 207.7L757.6 207.7L758.3 207.7L759.0 207.7L759.6 207.8L760.3 207.8L761.0 207.8L761.6 207.8L762.3 207.8L762.9 207.9L763.6 207.9L764.3 207.9L764.9 207.9L765.6 207.9L766.3 207.9L766.9 208.0L767.6 208.0L768.3 208.0L768.9 208.0L769.6 208.0L770.3 208.0L770.9 208.0L771.6 208.0L772.3 208.0L772.9 208.0L773.6 208.0L774.3 208.0L774.9 208.0L775.6 208.0L776.3 208.0L776.9 208.0L777.6 208.0L778.3 208.0L778.9 208.0L779.6 208.0L780.3 208.0L780.9 208.0L781.6 208.0" class="dl" style="stroke-dashoffset:6.80"/>
<path d="M470.0 208.3L470.6 208.2L471.2 208.2L471.7 208.1L472.3 208.1L472.9 208.0L473.6 208.0L474.2 207.9L474.8 207.9L475.4 207.8L476.0 207.8L476.6 207.7L477.2 207.6L477.9 207.6L478.5 207.5L479.1 207.4L479.7 207.3L480.3 207.1L480.9 207.0L481.4 206.8L482.0 206.6L482.6 206.4L483.1 206.2L483.7 206.0L484.2 205.7L484.7 205.4L485.2 205.1L485.7 204.8L486.2 204.5L486.7 204.1L487.2 203.7L487.7 203.3L488.1 202.9L488.5 202.5L489.0 202.1L489.4 201.6L489.8 201.2L490.2 200.8L490.6 200.3L491.0 199.8L491.4 199.4L491.8 198.9L492.2 198.4L492.5 198.0L492.9 197.5L493.2 197.0L493.6 196.5L493.9 196.0L494.3 195.5L494.6 195.0L494.9 194.5L495.2 194.0L495.5 193.5L495.8 192.9L496.1 192.4L496.4 191.9L496.7 191.3L497.0 190.8L497.2 190.3L497.5 189.7L497.8 189.2L498.0 188.6L498.3 188.1L498.5 187.5L498.8 187.0L499.0 186.4L499.2 185.9L499.5 185.3L499.7 184.7L499.9 184.2L500.1 183.6L500.3 183.0L500.6 182.5L500.8 181.9L501.0 181.3L501.2 180.8L501.4 180.2L501.6 179.6L501.7 179.0L501.9 178.4L502.1 177.9L502.3 177.3L502.5 176.7L502.7 176.1L502.8 175.5L503.0 174.9L503.2 174.4L503.4 173.8L503.5 173.2L503.7 172.6L503.9 172.0L504.0 171.5L504.2 170.9L504.4 170.3L504.5 169.7L504.7 169.1L504.8 168.6L505.0 168.0L505.2 167.4L505.3 166.8L505.5 166.2L505.6 165.7L505.8 165.1L505.9 164.5L506.1 163.9L506.2 163.4L506.4 162.8L506.5 162.2L506.7 161.6L506.8 161.1L507.0 160.5L507.1 159.9L507.3 159.3L507.4 158.7L507.5 158.2L507.7 157.6L507.8 157.0L508.0 156.4L508.1 155.9L508.2 155.3L508.4 154.7L508.5 154.1L508.6 153.5L508.8 153.0L508.9 152.4L509.0 151.8L509.1 151.2L509.3 150.6L509.4 150.1L509.5 149.5L509.6 148.9L509.8 148.3L509.9 147.7L510.0 147.1L510.1 146.5L510.2 146.0L510.4 145.4L510.5 144.8L510.6 144.2L510.7 143.6L510.8 143.0L510.9 142.4L511.0 141.8L511.2 141.2L511.3 140.6L511.4 140.0L511.5 139.4L511.6 138.8L511.7 138.2L511.8 137.6L511.9 137.0L512.0 136.4L512.1 135.8L512.2 135.2L512.3 134.6L512.4 134.0L512.5 133.3L512.6 132.7L512.7 132.1L512.8 131.5L512.9 130.9L513.0 130.3L513.1 129.6L513.2 129.0L513.3 128.4L513.4 127.8L513.5 127.2L513.6 126.6L513.8 126.0L513.9 125.3L514.0 124.7L514.2 124.1L514.3 123.5L514.5 122.9L514.6 122.4L514.8 121.8L515.0 121.2L515.2 120.6L515.4 120.0L515.6 119.5L515.8 118.9L516.0 118.4L516.2 117.8L516.5 117.3L516.8 116.7L517.0 116.2L517.3 115.7L517.6 115.2L517.9 114.7L518.3 114.2L518.6 113.7L519.0 113.2L519.4 112.7L519.7 112.3L520.2 111.8L520.6 111.4L521.0 111.0L521.5 110.7L522.0 110.4L522.5 110.1L523.0 109.9L523.6 109.8L524.1 109.8L524.7 109.9L525.3 110.0L525.9 110.2L526.5 110.4L527.0 110.6L527.6 110.9L528.1 111.3L528.6 111.6L529.1 112.0L529.5 112.3L530.0 112.7L530.4 113.2L530.8 113.6L531.2 114.0L531.5 114.5L531.9 115.0L532.2 115.5L532.6 116.0L532.9 116.5L533.2 117.0L533.5 117.5L533.9 118.1L534.2 118.7L534.5 119.2L534.9 119.8L535.2 120.4L535.5 120.9L535.9 121.5L536.2 122.1L536.6 122.7L536.9 123.2L537.3 123.8L537.6 124.4L538.0 124.9L538.4 125.5L538.7 126.0L539.1 126.5L539.5 127.0L539.9 127.5L540.3 128.0L540.7 128.4L541.1 128.9L541.5 129.3L542.0 129.7L542.4 130.1L542.9 130.4L543.3 130.7L543.8 131.0L544.3 131.3L544.7 131.5L545.2 131.7L545.7 131.9L546.3 132.0L546.8 132.1L547.3 132.2L547.9 132.2L548.4 132.3L549.0 132.3L549.5 132.2L550.1 132.2L550.7 132.1L551.3 132.0L551.9 132.0L552.5 131.9L553.1 131.7L553.7 131.6L554.3 131.5L554.9 131.4L555.5 131.2L556.2 131.1L556.8 131.0L557.4 130.8L558.0 130.7L558.6 130.6L559.3 130.5L559.9 130.4L560.5 130.3L561.1 130.2L561.7 130.2L562.4 130.1L563.0 130.1L563.6 130.1L564.2 130.1L564.8 130.2L565.4 130.2L566.0 130.3L566.5 130.5L567.1 130.6L567.7 130.7L568.3 130.9L568.9 131.1L569.4 131.3L570.0 131.4L570.6 131.6L571.1 131.8L571.7 132.0L572.3 132.2L572.8 132.4L573.4 132.6L574.0 132.8L574.5 133.0L575.1 133.1L575.7 133.3L576.2 133.4L576.8 133.5L577.4 133.6L578.0 133.7L578.5 133.7L579.1 133.8L579.7 133.8L580.3 133.7L580.9 133.7L581.5 133.6L582.1 133.5L582.6 133.3L583.2 133.1L583.7 132.9L584.2 132.7L584.7 132.4L585.2 132.1L585.7 131.7L586.2 131.4L586.6 131.0L587.0 130.6L587.5 130.1L587.9 129.7L588.4 129.3L588.8 128.9L589.3 128.5L589.8 128.1L590.3 127.7L590.8 127.4L591.4 127.0L592.0 126.7L592.5 126.5L593.1 126.3L593.8 126.0L594.4 125.9L595.0 125.7L595.6 125.6L596.2 125.6L596.8 125.6L597.4 125.6L597.9 125.6L598.5 125.7L599.0 125.8L599.6 126.0L600.1 126.2L600.6 126.4L601.1 126.7L601.5 126.9L602.0 127.3L602.5 127.6L602.9 127.9L603.3 128.3L603.8 128.7L604.2 129.1L604.6 129.6L605.0 130.0L605.4 130.5L605.8 131.0L606.1 131.5L606.5 132.0L606.9 132.5L607.3 133.0L607.6 133.5L608.0 134.1L608.4 134.6L608.7 135.1L609.1 135.6L609.4 136.2L609.8 136.7L610.1 137.2L610.5 137.7L610.9 138.2L611.2 138.8L611.6 139.3L611.9 139.8L612.3 140.3L612.6 140.8L613.0 141.3L613.3 141.8L613.7 142.3L614.0 142.7L614.4 143.2L614.8 143.7L615.1 144.2L615.5 144.7L615.8 145.2L616.2 145.7L616.5 146.1L616.9 146.6L617.2 147.1L617.6 147.6L618.0 148.0L618.3 148.5L618.7 149.0L619.0 149.4L619.4 149.9L619.8 150.4L620.1 150.8L620.5 151.3L620.8 151.8L621.2 152.2L621.6 152.7L621.9 153.2L622.3 153.6L622.7 154.1L623.0 154.6L623.4 155.0L623.8 155.5L624.1 156.0L624.5 156.4L624.9 156.9L625.3 157.4L625.6 157.8L626.0 158.3L626.4 158.8L626.8 159.2L627.1 159.7L627.5 160.2L627.9 160.6L628.3 161.1L628.7 161.6L629.1 162.1L629.5 162.5L629.8 163.0L630.2 163.5L630.6 164.0L631.0 164.4L631.4 164.9L631.8 165.4L632.3 165.8L632.7 166.3L633.1 166.7L633.5 167.2L633.9 167.6L634.3 168.1L634.8 168.5L635.2 168.9L635.6 169.4L636.1 169.8L636.5 170.2L637.0 170.6L637.4 171.0L637.9 171.4L638.3 171.8L638.8 172.1L639.3 172.5L639.7 172.9L640.2 173.2L640.7 173.6L641.2 173.9L641.6 174.3L642.1 174.6L642.6 175.0L643.1 175.3L643.6 175.7L644.1 176.0L644.6 176.3L645.1 176.7L645.6 177.0L646.1 177.3L646.6 177.6L647.1 178.0L647.6 178.3L648.1 178.6L648.6 178.9L649.1 179.3L649.6 179.6L650.1 179.9L650.6 180.2L651.1 180.5L651.6 180.8L652.2 181.2L652.7 181.5L653.2 181.8L653.7 182.1L654.2 182.4L654.7 182.7L655.3 183.0L655.8 183.3L656.3 183.6L656.8 183.9L657.4 184.2L657.9 184.5L658.4 184.8L658.9 185.1L659.5 185.4L660.0 185.7L660.5 186.0L661.1 186.3L661.6 186.5L662.1 186.8L662.7 187.1L663.2 187.4L663.7 187.7L664.3 187.9L664.8 188.2L665.4 188.5L665.9 188.8L666.5 189.0L667.0 189.3L667.5 189.6L668.1 189.8L668.6 190.1L669.2 190.3L669.7 190.6L670.3 190.9L670.8 191.1L671.4 191.4L671.9 191.6L672.5 191.8L673.0 192.1L673.6 192.3L674.2 192.6L674.7 192.8L675.3 193.0L675.8 193.3L676.4 193.5L677.0 193.7L677.5 193.9L678.1 194.2L678.6 194.4L679.2 194.6L679.8 194.8L680.3 195.0L680.9 195.2L681.5 195.4L682.0 195.6L682.6 195.8L683.2 196.0L683.8 196.2L684.3 196.4L684.9 196.6L685.5 196.8L686.0 197.0L686.6 197.1L687.2 197.3L687.8 197.5L688.3 197.7L688.9 197.8L689.5 198.0L690.1 198.2L690.7 198.3L691.2 198.5L691.8 198.6L692.4 198.8L693.0 198.9L693.6 199.1L694.2 199.2L694.7 199.4L695.3 199.5L695.9 199.7L696.5 199.8L697.1 199.9L697.7 200.1L698.2 200.2L698.8 200.3L699.4 200.5L700.0 200.6L700.6 200.7L701.2 200.8L701.8 200.9L702.4 201.1L703.0 201.2L703.5 201.3L704.1 201.4L704.7 201.5L705.3 201.6L705.9 201.7L706.5 201.8L707.1 201.9L707.7 202.0L708.3 202.1L708.9 202.2L709.5 202.3L710.1 202.4L710.7 202.5L711.3 202.6L711.9 202.7L712.5 202.8L713.0 202.8L713.6 202.9L714.2 203.0L714.8 203.1L715.4 203.2L716.0 203.3L716.6 203.3L717.2 203.4L717.8 203.5L718.4 203.5L719.0 203.6L719.6 203.7L720.2 203.8L720.8 203.8L721.4 203.9L722.0 204.0L722.6 204.0L723.2 204.1L723.8 204.1L724.4 204.2L725.0 204.3L725.6 204.3L726.2 204.4L726.8 204.4L727.4 204.5L728.0 204.5L728.6 204.6L729.2 204.6L729.8 204.7L730.4 204.7L731.0 204.8L731.6 204.8L732.2 204.9L732.8 204.9L733.4 205.0L734.0 205.0L734.6 205.1L735.2 205.1L735.8 205.1L736.4 205.2L737.0 205.2L737.6 205.3L738.2 205.3L738.8 205.3L739.4 205.4L740.0 205.4L740.6 205.4L741.3 205.5L741.9 205.5L742.5 205.6L743.1 205.6L743.7 205.6L744.3 205.7L744.9 205.7L745.5 205.7L746.1 205.7L746.7 205.8L747.3 205.8L747.9 205.8L748.5 205.9L749.1 205.9L749.7 205.9L750.3 206.0L750.9 206.0L751.5 206.0L752.1 206.0L752.7 206.1L753.3 206.1L753.9 206.1L754.5 206.2L755.1 206.2L755.7 206.2L756.3 206.2L756.9 206.3L757.5 206.3L758.1 206.3L758.7 206.3L759.3 206.4L759.9 206.4L760.5 206.4L761.2 206.4L761.8 206.5L762.4 206.5L763.0 206.5L763.6 206.6L764.2 206.6L764.8 206.6L765.4 206.6L766.0 206.7L766.6 206.7L767.2 206.7L767.8 206.7L768.4 206.8L769.0 206.8L769.6 206.8L770.2 206.9L770.8 206.9L771.4 206.9L772.0 207.0L772.6 207.0L773.2 207.0L773.8 207.1L774.4 207.1L775.0 207.1L775.6 207.2L776.2 207.2L776.8 207.2L777.4 207.3L778.0 207.3L778.6 207.3L779.2 207.4L779.8 207.4L780.4 207.4L781.0 207.5L781.6 207.5" class="sl"/>
</svg>
</body></html>
